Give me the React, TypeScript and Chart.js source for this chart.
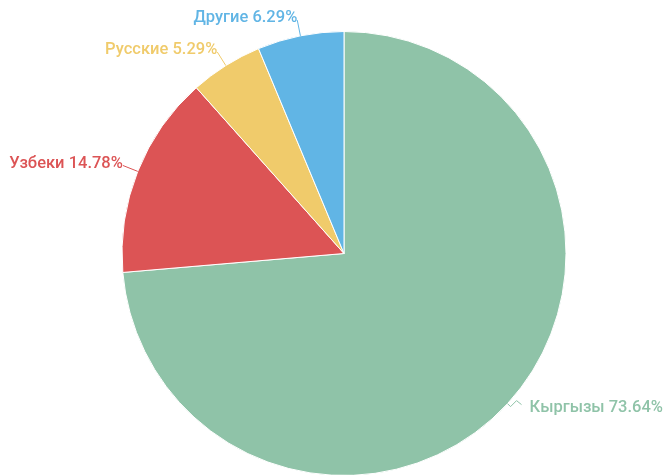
import React, { useEffect, useRef } from "react";
import { Chart, registerables } from "chart.js";

Chart.register(...registerables);

const categories = ["Кыргызы", "Узбеки", "Русские", "Другие"];
const values = [73.64, 14.78, 5.29, 6.29];
const colors = ["#8fc3a8", "#dc5455", "#f0cb6b", "#61b5e5"];

const labelPlugin = {
  id: "pieLabels",
  afterDatasetsDraw(chart: any) {
    const ctx = chart.ctx;
    const meta = chart.getDatasetMeta(0);
    ctx.save();
    ctx.font = "500 16.5px Roboto";
    ctx.textBaseline = "middle";
    ctx.lineWidth = 1;
    meta.data.forEach((arc: any, i: number) => {
      const { x, y, startAngle, endAngle, outerRadius } = arc.getProps(
        ["x", "y", "startAngle", "endAngle", "outerRadius"],
        true
      );
      const mid = (startAngle + endAngle) / 2;
      const cos = Math.cos(mid);
      const sin = Math.sin(mid);
      const ex = x + cos * outerRadius;
      const ey = y + sin * outerRadius;
      const text = `${categories[i]} ${values[i].toFixed(2)}%`;
      ctx.strokeStyle = colors[i];
      ctx.fillStyle = colors[i];
      ctx.beginPath();
      ctx.moveTo(ex, ey);
      if (cos > 0) {
        ctx.lineTo(ex + 3, ey + 3);
        ctx.lineTo(ex + 9, ey - 3);
        ctx.lineTo(ex + 14, ey + 1);
        ctx.stroke();
        ctx.textAlign = "left";
        ctx.fillText(text, ex + 22, ey + 4);
      } else {
        const len = 16;
        const lx = ex + cos * len;
        const ly = ey + sin * len;
        ctx.lineTo(lx, ly);
        ctx.stroke();
        ctx.textAlign = "right";
        ctx.fillText(text, lx, ly - 2);
      }
    });
    ctx.restore();
  },
};

export default function App() {
  const ref = useRef<HTMLCanvasElement>(null);
  useEffect(() => {
    document.body.style.overflow = "hidden";
    const chart = new Chart(ref.current!, {
      type: "pie",
      data: {
        labels: categories,
        datasets: [
          {
            data: values,
            backgroundColor: colors,
            borderColor: "#ffffff",
            borderWidth: 1,
          },
        ],
      },
      options: {
        animation: false,
        responsive: true,
        maintainAspectRatio: false,
        layout: { padding: { top: 31, bottom: 0, left: 24, right: 0 } },
        plugins: { legend: { display: false }, tooltip: { enabled: false } },
      },
      plugins: [labelPlugin],
    });
    return () => chart.destroy();
  }, []);
  return (
    <div style={{ position: "absolute", left: 0, top: 0, width: 664, height: 476 }}>
      <canvas ref={ref} />
    </div>
  );
}
